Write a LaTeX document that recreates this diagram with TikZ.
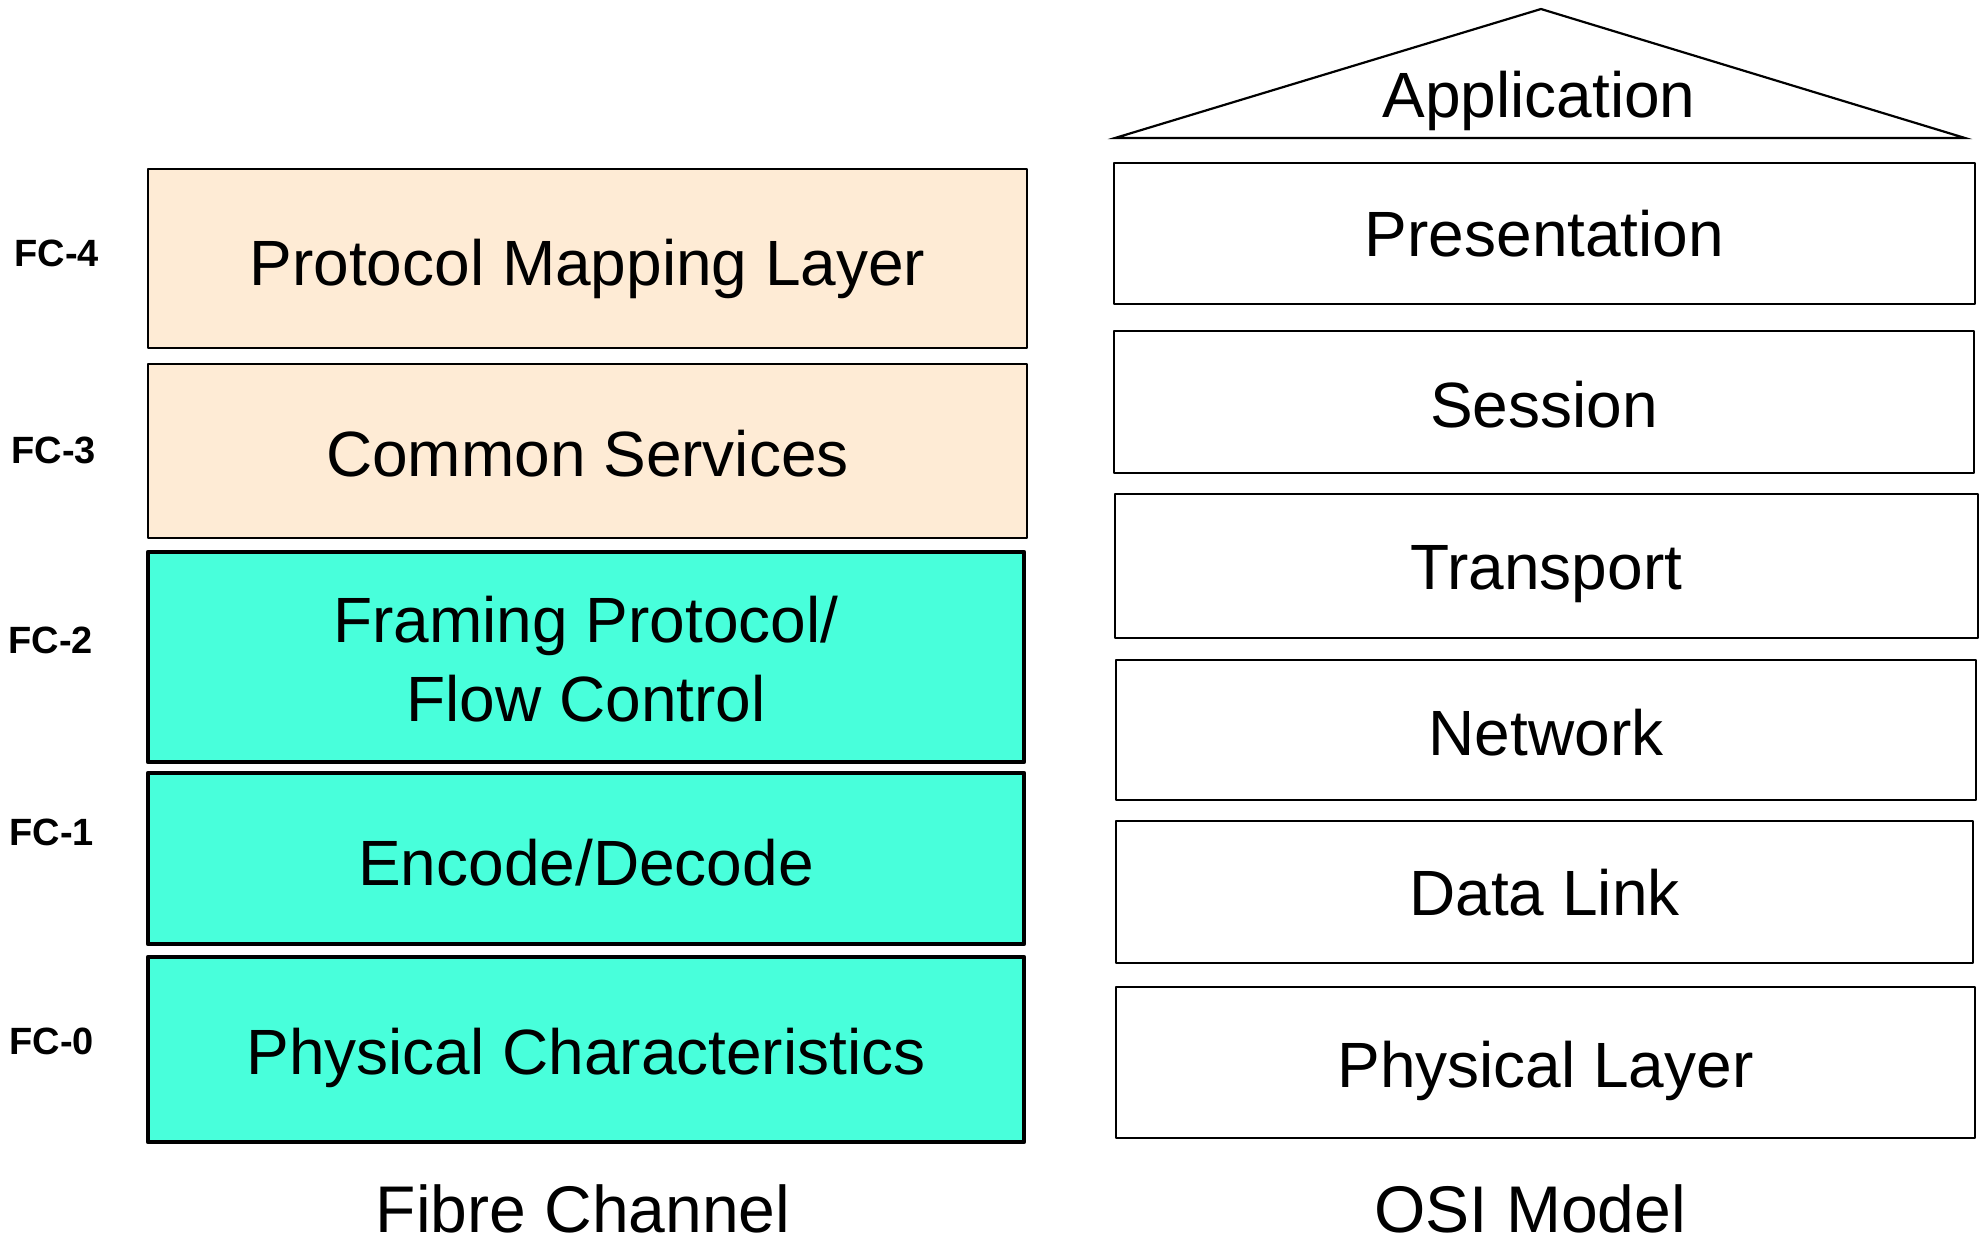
\documentclass[tikz,border=0pt]{standalone}
\usepackage{fontspec}
\setmainfont{Liberation Sans}
\usetikzlibrary{fit}
\definecolor{upperfill}{HTML}{FEEBD5}
\definecolor{lowerfill}{HTML}{48FFDB}
\begin{document}
\begin{tikzpicture}[x=0.5pt,y=-0.5pt,
  layerbox/.style={draw=black, inner sep=0pt, line join=round},
  upper/.style={layerbox, fill=upperfill, line width=1.2pt},
  lower/.style={layerbox, fill=lowerfill, line width=2.3pt},
  osi/.style={layerbox, line width=1.1pt},
  lbl/.style={font=\fontsize{32}{39.5}\selectfont, inner sep=0pt, text height=23pt, text depth=0pt},
  lbltwo/.style={font=\fontsize{32}{39.5}\selectfont, inner sep=0pt, align=center},
  fclbl/.style={font=\fontsize{19}{22}\selectfont\bfseries, anchor=west, inner sep=0pt, text height=13.6pt, text depth=0pt},
  title/.style={font=\fontsize{33}{40}\selectfont, anchor=base, inner sep=0pt}]
\useasboundingbox (0,0) rectangle (1983,1238);

% Fibre Channel stack
\node[upper, fit={(148,169) (1027,348)}] (fc4) {};
\node[upper, fit={(148,364) (1027,538)}] (fc3) {};
\node[lower, fit={(148,552) (1024,762)}] (fc2) {};
\node[lower, fit={(148,773) (1024,944)}] (fc1) {};
\node[lower, fit={(148,957) (1024,1142)}] (fc0) {};

\node[lbl] (fc4t) at ([yshift=-2pt]fc4.center) {Protocol Mapping Layer};
\node[lbl] (fc3t) at ([yshift=-1pt]fc3.center) {Common Services};
\node[lbltwo] (fc2t) at ([yshift=-1pt]fc2.center) {Framing Protocol/\\Flow Control};
\node[lbl] (fc1t) at ([yshift=-2pt]fc1.center) {Encode/Decode};
\node[lbl] (fc0t) at ([yshift=-1pt]fc0.center) {Physical Characteristics};

% level tags
\node[fclbl] (tag4) at (14,253) {FC-4};
\node[fclbl] (tag3) at (11,450) {FC-3};
\node[fclbl] (tag2) at (8,640) {FC-2};
\node[fclbl] (tag1) at (9,832) {FC-1};
\node[fclbl] (tag0) at (9,1041) {FC-0};

% OSI stack
\draw[line width=1.1pt] (1115,138) -- (1541,9) -- (1965,138) -- cycle;
\node[lbl] (app) at (1539,94) {Application};
\node[osi, fit={(1114,163) (1975,304)}] (pres) {};
\node[osi, fit={(1114,331) (1974,473)}] (sess) {};
\node[osi, fit={(1115,494) (1978,638)}] (trans) {};
\node[osi, fit={(1116,660) (1976,800)}] (net) {};
\node[osi, fit={(1116,821) (1973,963)}] (link) {};
\node[osi, fit={(1116,987) (1975,1138)}] (phys) {};

\node[lbl] (prest) at (pres.center) {Presentation};
\node[lbl] (sesst) at ([yshift=-1pt]sess.center) {Session};
\node[lbl] (transt) at (trans.center) {Transport};
\node[lbl] (nett) at ([yshift=-1pt]net.center) {Network};
\node[lbl] (linkt) at (link.center) {Data Link};
\node[lbl] (physt) at ([yshift=-1pt]phys.center) {Physical Layer};

% column titles
\node[title] (fctitle) at (583,1232) {Fibre Channel};
\node[title] (osititle) at (1530,1232) {OSI Model};
\end{tikzpicture}
\end{document}
